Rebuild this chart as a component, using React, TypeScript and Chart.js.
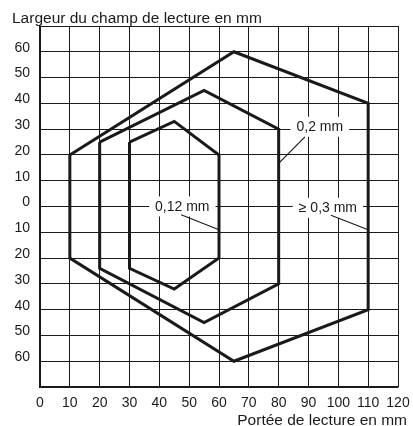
import React, { useEffect, useRef } from 'react';
import { Chart, registerables } from 'chart.js';

Chart.register(...registerables);

// Axis ranges / ticks
const xMin = 0;
const xMax = 120;
const yMin = -70;
const yMax = 70;
const tickStep = 10;

// Titles
const yTitle = 'Largeur du champ de lecture en mm';
const xTitle = 'Portée de lecture en mm';

// Reading fields (closed polygons), in mm
const outerX = [10, 65, 110, 110, 65, 10, 10];
const outerY = [20, 60, 40, -40, -60, -20, 20];
const midX = [20, 55, 80, 80, 55, 20, 20];
const midY = [25, 45, 30, -30, -45, -24, 25];
const innerX = [30, 45, 60, 60, 45, 30, 30];
const innerY = [25, 33, 20, -20, -32, -24, 25];

// Annotation labels (data coordinates)
const labelTexts = ['0,2 mm', '≥ 0,3 mm', '0,12 mm'];
const labelX = [93.8, 96.5, 47.7];
const labelY = [30.9, -0.5, 0];
// Leader lines
const leaderFromX = [88.8, 97.5, 47.3];
const leaderFromY = [27.0, -3.4, -3.2];
const leaderToX = [80, 110, 60];
const leaderToY = [16.7, -9, -9];

const toPts = (xs: number[], ys: number[]) => xs.map((v, i) => ({ x: v, y: ys[i] }));

const INK = '#1a1a1a';
const FONT = '"Liberation Sans", Arial, Helvetica, sans-serif';

const annotPlugin = {
  id: 'annot',
  afterDatasetsDraw(chart: any) {
    const { ctx, scales } = chart;
    const xs = scales.x;
    const ys = scales.y;
    ctx.save();
    ctx.font = `14px ${FONT}`;
    ctx.textBaseline = 'middle';
    ctx.textAlign = 'center';
    labelTexts.forEach((t, i) => {
      const px = xs.getPixelForValue(labelX[i]);
      const py = ys.getPixelForValue(labelY[i]);
      const w = ctx.measureText(t).width + 12;
      ctx.fillStyle = '#ffffff';
      ctx.fillRect(px - w / 2, py - 10, w, 20);
      ctx.fillStyle = INK;
      ctx.fillText(t, px, py + 0.5);
    });
    // leader lines
    ctx.strokeStyle = INK;
    ctx.lineWidth = 1.2;
    leaderFromX.forEach((fx, i) => {
      ctx.beginPath();
      ctx.moveTo(xs.getPixelForValue(fx), ys.getPixelForValue(leaderFromY[i]));
      ctx.lineTo(xs.getPixelForValue(leaderToX[i]), ys.getPixelForValue(leaderToY[i]));
      ctx.stroke();
    });
    // axis titles
    ctx.fillStyle = INK;
    ctx.font = `15.5px ${FONT}`;
    ctx.textAlign = 'left';
    ctx.fillText(yTitle, 12, 18.5);
    ctx.textAlign = 'right';
    ctx.fillText(xTitle, 407, 421);
    ctx.restore();
  },
};

export default function App() {
  const ref = useRef<HTMLCanvasElement>(null);

  useEffect(() => {
    document.body.style.margin = '0';
    const canvas = ref.current;
    if (!canvas) return;
    const polyStyle = {
      borderColor: INK,
      borderWidth: 3,
      pointRadius: 0,
      tension: 0,
      fill: false,
      showLine: true,
      borderJoinStyle: 'miter' as const,
    };
    const chart = new Chart(canvas, {
      type: 'scatter',
      data: {
        datasets: [
          { label: '≥ 0,3 mm', data: toPts(outerX, outerY), ...polyStyle },
          { label: '0,2 mm', data: toPts(midX, midY), ...polyStyle },
          { label: '0,12 mm', data: toPts(innerX, innerY), ...polyStyle },
        ],
      },
      options: {
        responsive: false,
        animation: false,
        devicePixelRatio: 1,
        layout: { padding: { top: 26, right: 15, left: 0, bottom: 0 } },
        plugins: {
          legend: { display: false },
          tooltip: { enabled: false },
          title: { display: false },
        },
        scales: {
          x: {
            type: 'linear',
            min: xMin,
            max: xMax,
            afterFit: (s: any) => {
              s.height = 39;
              s.paddingLeft = 0;
              s.paddingRight = 0;
            },
            ticks: {
              stepSize: tickStep,
              color: INK,
              font: { family: FONT, size: 14 },
              padding: 8,
              maxRotation: 0,
              autoSkip: false,
            },
            grid: { color: INK, lineWidth: 1, drawTicks: false },
            border: { color: INK, width: 1.3 },
          },
          y: {
            type: 'linear',
            min: yMin,
            max: yMax,
            afterFit: (s: any) => {
              s.width = 40;
              s.paddingTop = 0;
              s.paddingBottom = 0;
            },
            ticks: {
              stepSize: tickStep,
              color: INK,
              font: { family: FONT, size: 14 },
              padding: 10,
              labelOffset: -4,
              autoSkip: false,
              callback: (v: any) => (Math.abs(v) >= yMax ? '' : String(Math.abs(v))),
            },
            grid: { color: INK, lineWidth: 1, drawTicks: false },
            border: { color: INK, width: 1.3 },
          },
        },
      },
      plugins: [annotPlugin],
    });
    return () => chart.destroy();
  }, []);

  return (
    <div style={{ width: 413, height: 426, background: '#fff' }}>
      <canvas ref={ref} width={413} height={426} style={{ display: 'block' }} />
    </div>
  );
}
